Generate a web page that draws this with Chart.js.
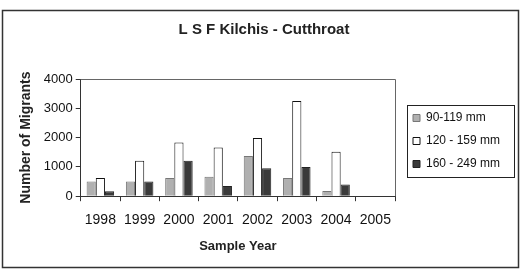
<!DOCTYPE html>
<html>
<head>
<meta charset="utf-8">
<script src="https://cdn.jsdelivr.net/npm/chart.js@4/dist/chart.umd.min.js"></script>
<style>
  html, body { margin: 0; padding: 0; background: #fff; }
  #wrap { width: 521px; height: 269px; position: relative; }
</style>
</head>
<body>
<div id="wrap"><canvas id="c" width="521" height="269"></canvas></div>
<script>
var years = ["1998", "1999", "2000", "2001", "2002", "2003", "2004", "2005"];
var small = [500, 500, 620, 660, 1370, 620, 180, 0];      // 90-119 mm
var medium = [620, 1210, 1830, 1660, 1990, 3250, 1520, 0]; // 120-159 mm
var large = [170, 500, 1210, 350, 950, 1000, 400, 0];      // 160-249 mm
var yTicks = [0, 1000, 2000, 3000, 4000];

var FONT = "'Liberation Sans', Arial, sans-serif";
var LEGEND_W = 119;

// outer frame plus the top/right border of the plot area and the legend box
var frame = {
    id: 'frame',
    beforeLayout: function(chart){
        var lg = chart.legend;
        if(lg && !lg._wide){
            var fit = lg.fit;
            lg.fit = function(){ fit.call(this); this.width = LEGEND_W; };
            lg._wide = true;
        }
    },
    afterLayout: function(chart){
        // nudge legend entries right/down, inside the drawn box
        chart.legend.left += 7;
        chart.legend.right += 7;
        chart.legend.top += 4;
        chart.legend.bottom += 4;
    },
    afterDraw: function(chart){
        var ctx = chart.ctx;
        var a = chart.chartArea;
        ctx.save();
        ctx.strokeStyle = "#666";
        ctx.lineWidth = 1;
        ctx.beginPath();
        ctx.moveTo(a.left, a.top + 0.5);
        ctx.lineTo(a.right + 0.5, a.top + 0.5);
        ctx.lineTo(a.right + 0.5, a.bottom);
        ctx.stroke();

        var hb = chart.legend.legendHitBoxes;
        var top = hb[0].top - 7;
        var bot = hb[hb.length - 1].top + hb[hb.length - 1].height + 7;
        ctx.strokeStyle = "#222";
        ctx.strokeRect(Math.round(a.right) + 12.5, Math.round(top) + 0.5,
                       514 - Math.round(a.right) - 12, Math.round(bot - top));

        ctx.strokeStyle = "#333";
        ctx.lineWidth = 1.5;
        ctx.strokeRect(2.5, 10.5, 516, 257);
        ctx.restore();
    }
};

var ctx = document.getElementById("c").getContext("2d");
new Chart(ctx, {
    type: 'bar',
    data: {
        labels: years,
        datasets: [
            { label: '90-119 mm', data: small, backgroundColor: '#b0b0b0',
              borderColor: '#777', borderWidth: 1 },
            { label: '120 - 159 mm', data: medium, backgroundColor: '#ffffff',
              borderColor: '#111', borderWidth: 1 },
            { label: '160 - 249 mm', data: large, backgroundColor: '#3a3a3a',
              borderColor: '#222', borderWidth: 1 }
        ]
    },
    options: {
        responsive: false,
        animation: false,
        devicePixelRatio: 1,
        layout: { padding: { top: 21, left: 14, right: 7, bottom: 16 } },
        datasets: { bar: { categoryPercentage: 0.7, barPercentage: 1.0 } },
        plugins: {
            title: {
                display: true,
                text: 'L S F Kilchis - Cutthroat',
                color: '#222',
                font: { family: FONT, size: 15, weight: 'bold' },
                padding: { top: 0, bottom: 40 }
            },
            legend: {
                position: 'right',
                labels: {
                    color: '#111',
                    font: { family: FONT, size: 12 },
                    boxWidth: 7,
                    boxHeight: 7,
                    padding: 11
                }
            },
            tooltip: { enabled: false }
        },
        scales: {
            x: {
                grid: { offset: true, drawOnChartArea: false, drawTicks: true,
                        tickLength: 5, color: '#333' },
                border: { display: true, color: '#333' },
                ticks: { color: '#111', font: { family: FONT, size: 14 }, padding: 11 },
                title: { display: true, text: 'Sample Year', color: '#222',
                         font: { family: FONT, size: 13, weight: 'bold', lineHeight: 1.0 },
                         padding: { top: 0, bottom: 0 } }
            },
            y: {
                min: 0,
                max: 4000,
                afterBuildTicks: function(axis){
                    axis.ticks = yTicks.map(function(v){ return { value: v }; });
                },
                grid: { drawOnChartArea: false, drawTicks: true, tickLength: 5, color: '#333' },
                border: { display: true, color: '#333' },
                ticks: { color: '#111', font: { family: FONT, size: 13 }, padding: 3,
                         callback: function(v){ return String(v); } },
                title: { display: true, text: 'Number of Migrants', color: '#222',
                         font: { family: FONT, size: 14, weight: 'bold' },
                         padding: { bottom: 6 } }
            }
        }
    },
    plugins: [frame]
});
</script>
</body>
</html>
